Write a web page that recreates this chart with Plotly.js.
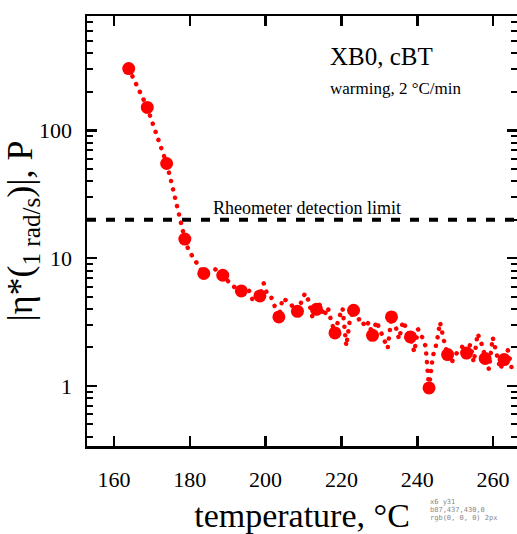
<!DOCTYPE html>
<html>
<head>
<meta charset="utf-8">
<script src="https://cdn.plot.ly/plotly-3.0.1.min.js"></script>
<style>
html,body{margin:0;padding:0;background:#fff;overflow:hidden;}
.dotted-data .js-line{stroke-linecap:round !important;}
#dbg{position:absolute;left:430px;top:498px;width:86px;font:7px monospace;color:#888;white-space:pre;line-height:8px;}
</style>
</head>
<body>
<div id="chart" style="width:517px;height:534px;"></div>
<div id="dbg"></div>
<script>
// Dense measurement (drawn as dotted line)
const denseT = [163.9,164.9,165.9,166.8,167.8,168.8,169.8,170.8,171.8,172.9,173.9,174.9,175.8,176.8,177.7,178.7,179.7,180.7,181.7,182.7,183.7,184.7,185.7,186.7,187.7,188.7,189.7,190.7,191.7,192.6,193.6,194.6,195.6,196.6,197.5,198.5,199.5,200.5,201.5,202.5,203.5,204.5,205.5,206.5,207.4,208.4,209.4,210.4,211.4,212.4,213.4,214.4,215.4,216.4,217.3,218.3,219.3,220.3,221.3,222.2,223.2,224.2,225.2,226.2,227.2,228.2,229.2,230.2,231.2,232.2,233.2,234.2,235.2,236.2,237.2,238.2,239.2,240.2,241.2,242.2,243.1,244.1,245.1,246.0,247.0,248.0,249.0,250.0,251.0,252.0,253.0,254.0,254.9,255.9,256.9,257.9,258.9,259.9,260.9,261.9,262.9,263.9,264.9];
const denseEta = [304,265,230,199,172,151,123,101,82,67.4,55,42.2,32.2,24.6,18.4,14.1,11.5,10.2,9.3,8.34,7.58,7.76,8.0,8.19,7.76,7.35,6.84,6.25,5.92,5.71,5.54,5.41,5.61,4.69,5.22,5.06,6.36,5.13,4.94,4.2,3.47,4.86,4.69,4.44,4.06,3.84,4.52,5.31,4.6,3.39,3.98,4.36,3.51,4.13,3.21,2.6,3.39,4.06,2.05,3.27,3.91,3.27,3.39,2.88,3.15,2.49,3.21,2.73,2.28,1.97,3.47,2.99,2.32,3.21,2.78,2.42,1.84,2.78,2.45,2.05,0.965,1.71,2.16,3.15,2.28,1.76,1.51,1.74,1.90,2.05,1.81,2.12,1.53,2.58,2.16,1.64,1.35,2.40,1.74,1.35,1.61,1.90,1.38];
// Highlighted points (big markers)
const markerT = [163.9,168.8,173.9,178.7,183.7,188.7,193.6,198.5,203.5,208.4,213.4,218.3,223.2,228.2,233.2,238.2,243.1,248.0,253.0,257.9,262.9];
const markerEta = [304,151,55,14.1,7.58,7.35,5.54,5.06,3.47,3.84,3.98,2.6,3.91,2.49,3.47,2.42,0.965,1.76,1.81,1.64,1.61];
// Detection limit
const limitValue = 20;
const limitLabel = "Rheometer detection limit";
// Axes
const xRange = [152.9, 266.3];
const yRangeLog = [-0.4695, 2.894];
const xTickVals = [160,180,200,220,240,260];
const xTickText = ["160","180","200","220","240","260"];
const yTickStepDecades = 1;      // major ticks: 1, 10, 100
const yMinorStep = 'D1';         // minor ticks: 2..9 of each decade
const titleMain = "XB0, cBT";
const titleSub = "warming, 2 °C/min";

const FONT = "'Liberation Serif', 'Times New Roman', serif";

const traces = [
  {x: xRange, y: [limitValue, limitValue], mode: 'lines',
   line: {color: '#000', width: 4, dash: '9px,10px'}, hoverinfo: 'skip', showlegend: false},
  {x: denseT, y: denseEta, mode: 'lines',
   line: {color: '#ff0000', width: 4.5, dash: '0.1px,8.5px'}, showlegend: false},
  {x: markerT, y: markerEta, mode: 'markers',
   marker: {color: '#ff0000', size: 13, symbol: 'circle'}, showlegend: false}
];

const layout = {
  width: 517, height: 534,
  margin: {l: 87, r: 0, t: 16, b: 88, pad: 0},
  paper_bgcolor: '#fff', plot_bgcolor: '#fff',
  font: {family: FONT, color: '#000'},
  showlegend: false,
  xaxis: {
    range: xRange, tickmode: 'array', tickvals: xTickVals, ticktext: xTickText,
    ticks: 'inside', ticklen: 10, tickwidth: 2.5, tickcolor: '#000',
    showline: true, linewidth: 2.5, linecolor: '#000', mirror: 'allticks',
    showgrid: false, zeroline: false,
    tickfont: {family: FONT, size: 22, color: '#000'},
    ticklabelstandoff: 12,
    title: {text: 'temperature, °C', font: {family: FONT, size: 34, color: '#000'}}
  },
  yaxis: {
    type: 'log', range: yRangeLog, tickmode: 'linear', tick0: 0, dtick: yTickStepDecades,
    ticks: 'inside', ticklen: 10, tickwidth: 2.5, tickcolor: '#000',
    minor: {dtick: yMinorStep, ticks: 'inside', ticklen: 6, tickwidth: 2, tickcolor: '#000', showgrid: false},
    showline: true, linewidth: 2.5, linecolor: '#000', mirror: 'allticks',
    showgrid: false, zeroline: false,
    tickfont: {family: FONT, size: 22, color: '#000'},
    ticklabelstandoff: 8,
    title: {text: '|η*(<sub>1 rad/s</sub>)|, P', font: {family: FONT, size: 36, color: '#000'}}
  },
  annotations: [
    {xref: 'paper', yref: 'paper', x: 0.56, y: 0.905, xanchor: 'left', yanchor: 'middle',
     text: titleMain, showarrow: false, font: {family: FONT, size: 25, color: '#000'}},
    {xref: 'paper', yref: 'paper', x: 0.56, y: 0.832, xanchor: 'left', yanchor: 'middle',
     text: titleSub, showarrow: false, font: {family: FONT, size: 17, color: '#000'}},
    {xref: 'x', yref: 'y', x: 210.8, y: Math.log10(limitValue), xanchor: 'center', yanchor: 'bottom',
     yshift: 0, text: limitLabel, showarrow: false, font: {family: FONT, size: 18, color: '#000'}}
  ]
};

Plotly.newPlot('chart', traces, layout, {displayModeBar: false, staticPlot: true}).then(function(gd){
  var lines = gd.querySelectorAll('.scatterlayer .trace');
  if (lines[1]) lines[1].classList.add('dotted-data');
  setTimeout(function(){
    try {
      var xt = gd.querySelectorAll('path.xtick'), yt = gd.querySelectorAll('path.ytick');
      var s = 'x' + xt.length + ' y' + yt.length;
      if (yt[0]) { var b = yt[0].getBoundingClientRect(); s += '\nb' + Math.round(b.x) + ',' + Math.round(b.y) + ',' + Math.round(b.width) + ',' + Math.round(b.height);
        s += '\n' + getComputedStyle(yt[0]).stroke + ' ' + getComputedStyle(yt[0]).strokeWidth; }
      document.getElementById('dbg').textContent = s;
    } catch(e) { document.getElementById('dbg').textContent = 'err ' + e.message; }
  }, 300);
});
</script>
</body>
</html>
